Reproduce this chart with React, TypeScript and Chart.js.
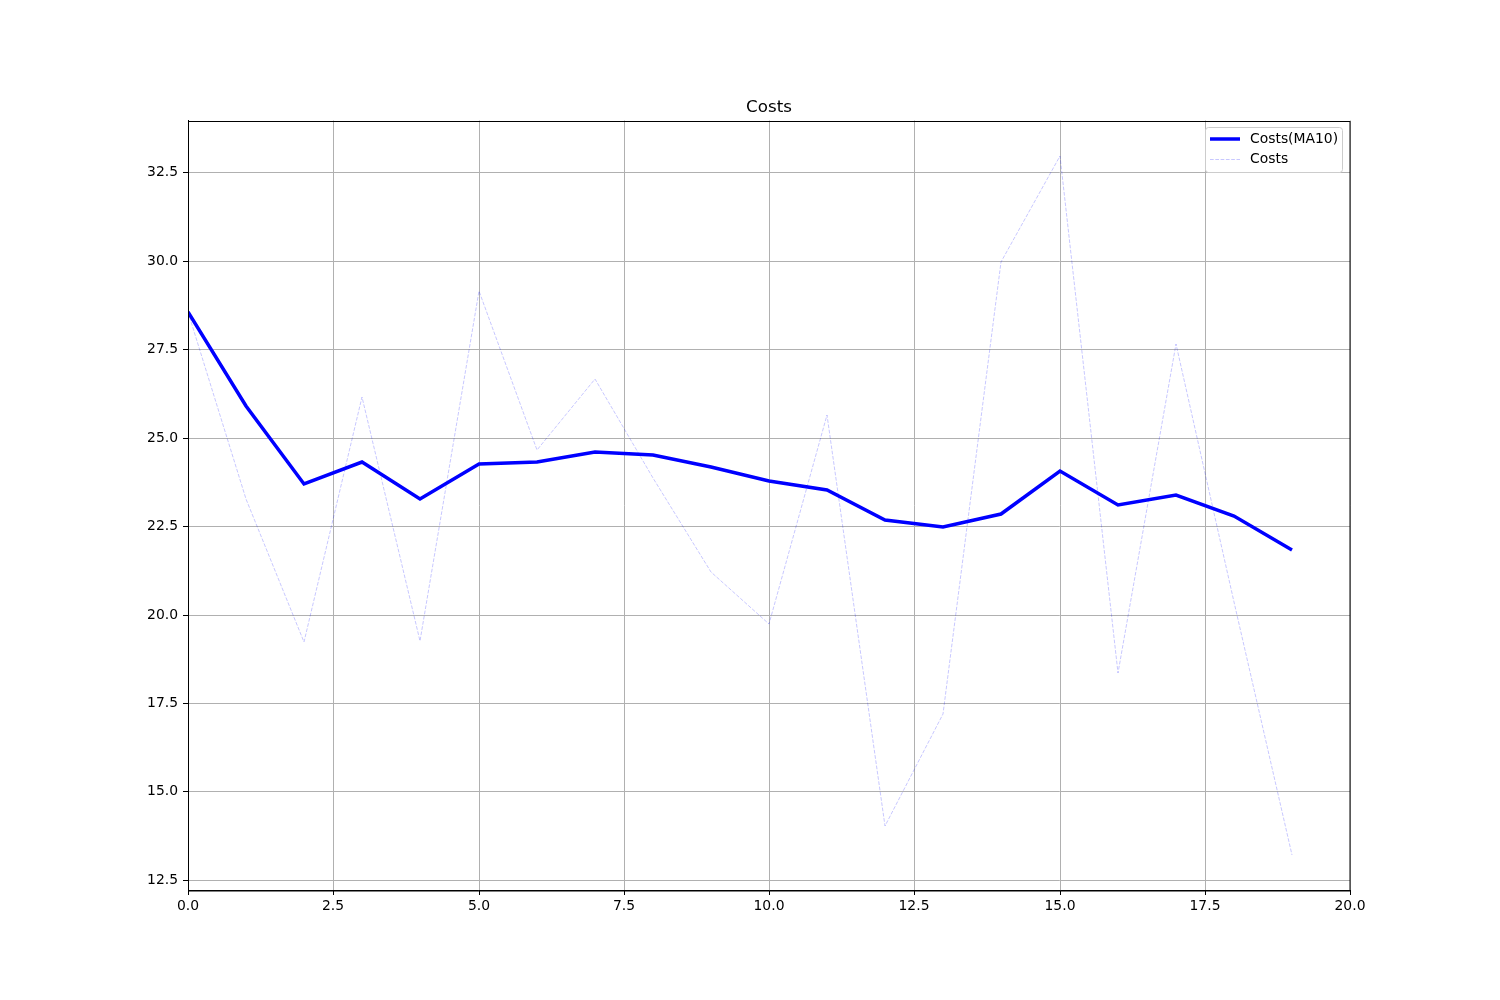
import React, { useEffect, useRef } from "react";
import { Chart, registerables } from "chart.js";

Chart.register(...registerables);

const days = [0, 1, 2, 3, 4, 5, 6, 7, 8, 9, 10, 11, 12, 13, 14, 15, 16, 17, 18, 19];
const costsMA10 = [28.55, 25.91, 23.68, 24.30, 23.28, 24.26, 24.31, 24.59, 24.50, 24.17, 23.78, 23.51, 22.66, 22.47, 22.83, 24.07, 23.09, 23.37, 22.80, 21.82];
const costs = [28.55, 23.27, 19.21, 26.15, 19.25, 29.14, 24.64, 26.66, 23.85, 21.2, 19.74, 25.63, 14.02, 17.18, 29.97, 32.98, 18.36, 27.66, 20.35, 13.2];
const xTicks = [0, 2.5, 5, 7.5, 10, 12.5, 15, 17.5, 20];
const yTicks = [12.5, 15, 17.5, 20, 22.5, 25, 27.5, 30, 32.5];
const seriesLabels = ["Costs(MA10)", "Costs"];
const titleText = "Costs";

const FONT = "'DejaVu Sans', sans-serif";
const MA_COLOR = "#0000ff";
const RAW_COLOR = "rgba(0,0,255,0.22)";

export default function App() {
  const ref = useRef<HTMLCanvasElement | null>(null);

  useEffect(() => {
    if (!ref.current) return;
    document.body.style.margin = "0";

    const decor = {
      id: "decor",
      afterDraw(chart: any) {
        const { ctx, chartArea } = chart;
        const { left, right, top, bottom } = chartArea;
        ctx.save();
        // frame
        ctx.strokeStyle = "#000";
        ctx.lineWidth = 1;
        ctx.strokeRect(Math.round(left) + 0.5, Math.round(top) + 0.5, Math.round(right - left) - 0.5, Math.round(bottom - top) - 0.5);
        // title
        ctx.fillStyle = "#000";
        ctx.font = `16.7px ${FONT}`;
        ctx.textAlign = "center";
        ctx.textBaseline = "alphabetic";
        ctx.fillText(titleText, (left + right) / 2, top - 8.5);
        // legend
        const bx = 1205.5, by = 127.5, bw = 137, bh = 45;
        ctx.fillStyle = "rgba(255,255,255,0.8)";
        ctx.strokeStyle = "#cccccc";
        ctx.lineWidth = 1;
        ctx.beginPath();
        const r = 3;
        ctx.moveTo(bx + r, by);
        ctx.lineTo(bx + bw - r, by);
        ctx.arcTo(bx + bw, by, bx + bw, by + r, r);
        ctx.lineTo(bx + bw, by + bh - r);
        ctx.arcTo(bx + bw, by + bh, bx + bw - r, by + bh, r);
        ctx.lineTo(bx + r, by + bh);
        ctx.arcTo(bx, by + bh, bx, by + bh - r, r);
        ctx.lineTo(bx, by + r);
        ctx.arcTo(bx, by, bx + r, by, r);
        ctx.closePath();
        ctx.fill();
        ctx.stroke();
        // entries
        const rows = [
          { y: 139, color: MA_COLOR, width: 3.5, dash: [] as number[] },
          { y: 159.5, color: RAW_COLOR, width: 1, dash: [3.7, 1.6] },
        ];
        rows.forEach((row, i) => {
          ctx.beginPath();
          ctx.strokeStyle = row.color;
          ctx.lineWidth = row.width;
          ctx.setLineDash(row.dash);
          ctx.moveTo(1210, row.y);
          ctx.lineTo(1240, row.y);
          ctx.stroke();
          ctx.setLineDash([]);
          ctx.fillStyle = "#000";
          ctx.font = `13.9px ${FONT}`;
          ctx.textAlign = "left";
          ctx.textBaseline = "middle";
          ctx.fillText(seriesLabels[i], 1250, row.y);
        });
        ctx.restore();
      },
    };

    const chart = new Chart(ref.current, {
      type: "line",
      data: {
        datasets: [
          {
            label: seriesLabels[0],
            data: days.map((d, i) => ({ x: d, y: costsMA10[i] })),
            borderColor: MA_COLOR,
            borderWidth: 3.5,
            pointRadius: 0,
            tension: 0,
            fill: false,
            order: 1,
          },
          {
            label: seriesLabels[1],
            data: days.map((d, i) => ({ x: d, y: costs[i] })),
            borderColor: RAW_COLOR,
            borderWidth: 1,
            borderDash: [3.7, 1.6],
            pointRadius: 0,
            tension: 0,
            fill: false,
            order: 0,
          },
        ],
      },
      options: {
        responsive: false,
        animation: false,
        layout: { padding: { top: 120.5, right: 150, bottom: 0, left: 0 } },
        plugins: {
          legend: { display: false },
          title: { display: false },
          tooltip: { enabled: false },
        },
        scales: {
          x: {
            type: "linear",
            min: 0,
            max: 20,
            alignToPixels: true,
            afterBuildTicks: (scale: any) => {
              scale.ticks = xTicks.map((v) => ({ value: v }));
            },
            afterFit: (scale: any) => {
              scale.height = 110;
            },
            grid: {
              color: "#b0b0b0",
              lineWidth: 1,
              tickColor: "#000",
              tickLength: 5,
            },
            border: { display: true, color: "#000", width: 1 },
            ticks: {
              color: "#000",
              font: { family: FONT, size: 13.9 },
              padding: 3.5,
              maxRotation: 0,
              autoSkip: false,
              callback: (v: any) => Number(v).toFixed(1),
            },
          },
          y: {
            type: "linear",
            min: 12.21,
            max: 33.97,
            alignToPixels: true,
            afterBuildTicks: (scale: any) => {
              scale.ticks = yTicks.map((v) => ({ value: v }));
            },
            afterFit: (scale: any) => {
              scale.width = 188;
            },
            grid: {
              color: "#b0b0b0",
              lineWidth: 1,
              tickColor: "#000",
              tickLength: 5,
            },
            border: { display: true, color: "#000", width: 1 },
            ticks: {
              color: "#000",
              font: { family: FONT, size: 13.9 },
              padding: 5,
              autoSkip: false,
              callback: (v: any) => Number(v).toFixed(1),
            },
          },
        },
      },
      plugins: [decor],
    });

    return () => chart.destroy();
  }, []);

  return (
    <div style={{ position: "absolute", left: 0, top: 0, width: 1500, height: 1000, background: "#fff" }}>
      <canvas ref={ref} width={1500} height={1000} style={{ width: 1500, height: 1000, display: "block" }} />
    </div>
  );
}
